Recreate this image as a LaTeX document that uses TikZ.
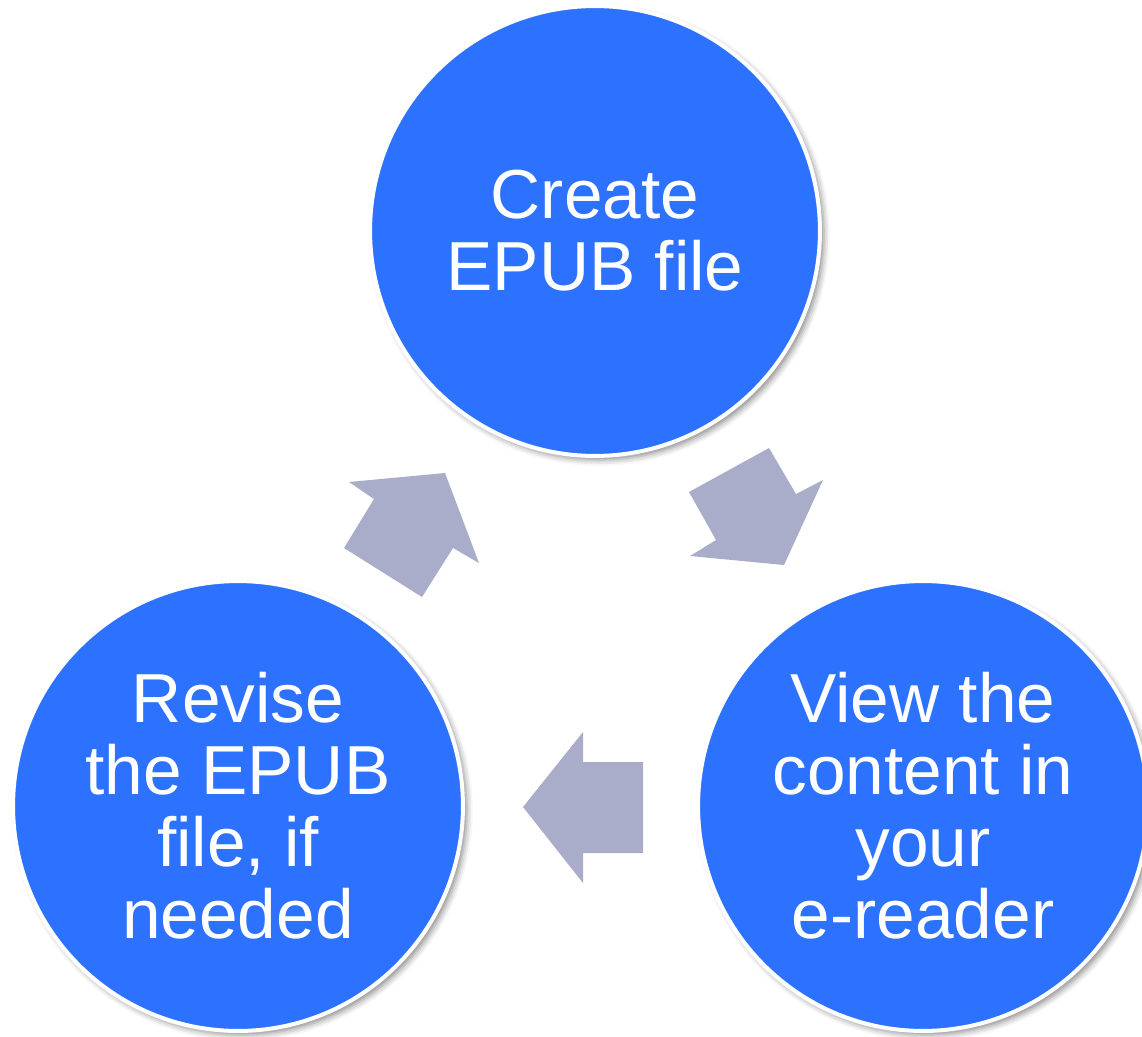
\documentclass[tikz,border=0pt]{standalone}
\usepackage{fontspec}
\setmainfont{Liberation Sans}
\usetikzlibrary{shadows.blur}
\definecolor{stageblue}{RGB}{45,114,255}
\definecolor{flowgray}{RGB}{169,173,201}
\begin{document}
\begin{tikzpicture}[x=0.02cm,y=-0.02cm,
  stage/.style={circle,fill=stageblue,draw=white,line width=0.08cm,
    minimum size=9cm,inner sep=0pt,text=white,align=center,
    font=\fontsize{39.5}{41}\selectfont,
    blur shadow={shadow xshift=0.08cm,shadow yshift=-0.08cm,
      shadow blur radius=0.12cm,shadow opacity=45}},
  flow/.style={fill=flowgray}]
  % Frame
  \useasboundingbox (0,0) rectangle (1142,1037);
  % Stages
  \node[stage] (create) at (595,231) {Create\\EPUB file};
  \node[stage] (view) at (923,806) {View the\\content in\\your\\e-reader};
  \node[stage] (revise) at (238,806) {Revise\\the EPUB\\file, if\\needed};
  % Arrows
  \fill[flow] (689,492) -- (769,448) -- (796,494) -- (823,480) -- (784,565) -- (690,556) -- (716,540) -- cycle;
  \fill[flow] (643,762) -- (583,762) -- (583,732) -- (523,807) -- (583,883) -- (583,853) -- (643,853) -- cycle;
  \fill[flow] (374,499) -- (349,482) -- (445,473) -- (479,563) -- (453,548) -- (422,597) -- (344,548) -- cycle;
\end{tikzpicture}
\end{document}
